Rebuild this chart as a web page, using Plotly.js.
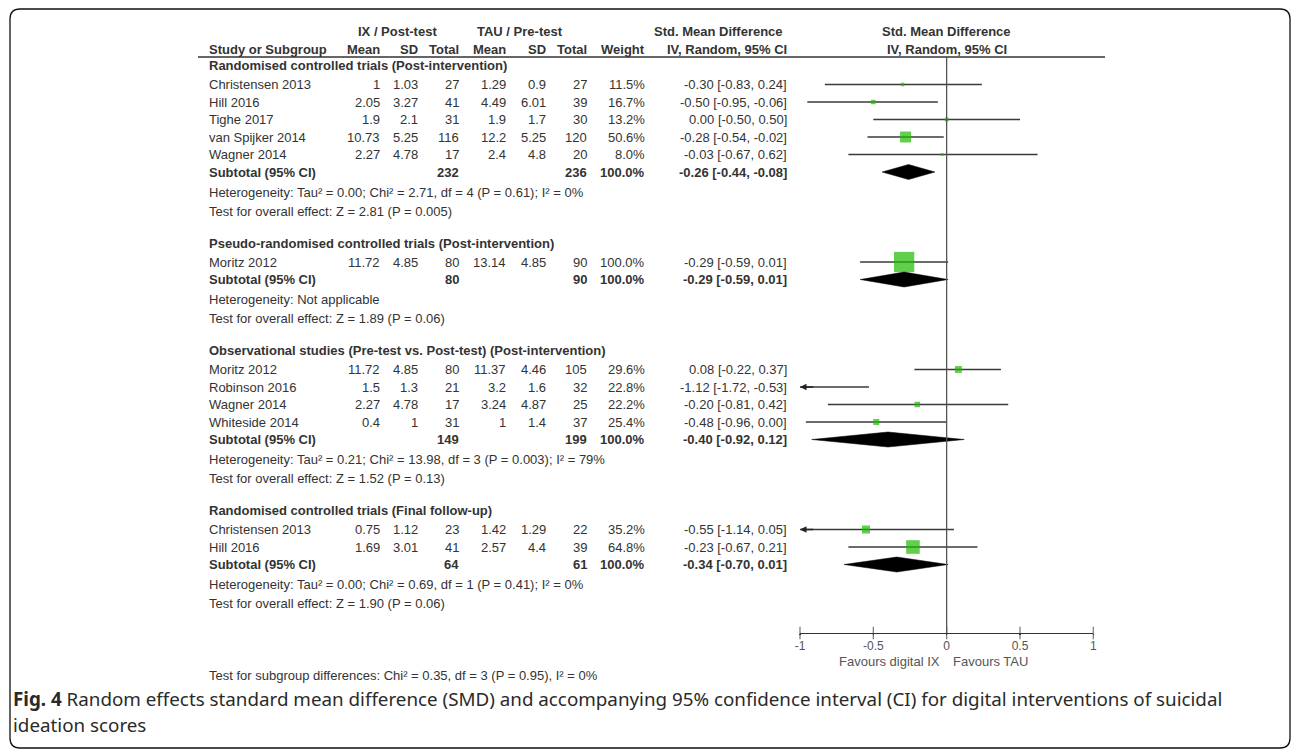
<!DOCTYPE html>
<html>
<head>
<meta charset="utf-8">
<script src="https://cdn.plot.ly/plotly-3.0.1.min.js"></script>
<style>html,body{margin:0;padding:0;background:#fff;}#chart{width:1292px;height:749px;}</style>
</head>
<body>
<div id="chart"></div>
<script>
// ---------- DATA ----------
const groupTitles = [
  "Randomised controlled trials (Post-intervention)",
  "Pseudo-randomised controlled trials (Post-intervention)",
  "Observational studies (Pre-test vs. Post-test) (Post-intervention)",
  "Randomised controlled trials (Final follow-up)"
];
const studyNames = ["Christensen 2013","Hill 2016","Tighe 2017","van Spijker 2014","Wagner 2014",
  "Moritz 2012",
  "Moritz 2012","Robinson 2016","Wagner 2014","Whiteside 2014",
  "Christensen 2013","Hill 2016"];
const studyGroup = [0,0,0,0,0,1,2,2,2,2,3,3];
const ixMean  = [1,2.05,1.9,10.73,2.27,11.72,11.72,1.5,2.27,0.4,0.75,1.69];
const ixSD    = [1.03,3.27,2.1,5.25,4.78,4.85,4.85,1.3,4.78,1,1.12,3.01];
const ixTotal = [27,41,31,116,17,80,80,21,17,31,23,41];
const tauMean = [1.29,4.49,1.9,12.2,2.4,13.14,11.37,3.2,3.24,1,1.42,2.57];
const tauSD   = [0.9,6.01,1.7,5.25,4.8,4.85,4.46,1.6,4.87,1.4,1.29,4.4];
const tauTotal= [27,39,30,120,20,90,105,32,25,37,22,39];
const weight  = [11.5,16.7,13.2,50.6,8.0,100.0,29.6,22.8,22.2,25.4,35.2,64.8];
const smd     = [-0.30,-0.50,0.00,-0.28,-0.03,-0.29,0.08,-1.12,-0.20,-0.48,-0.55,-0.23];
const ciLow   = [-0.83,-0.95,-0.50,-0.54,-0.67,-0.59,-0.22,-1.72,-0.81,-0.96,-1.14,-0.67];
const ciHigh  = [0.24,-0.06,0.50,-0.02,0.62,0.01,0.37,-0.53,0.42,0.00,0.05,0.21];

const subIxTotal  = [232,80,149,64];
const subTauTotal = [236,90,199,61];
const subWeight   = [100.0,100.0,100.0,100.0];
const subSmd  = [-0.26,-0.29,-0.40,-0.34];
const subLow  = [-0.44,-0.59,-0.92,-0.70];
const subHigh = [-0.08,0.01,0.12,0.01];
const hetText = [
  "Heterogeneity: Tau² = 0.00; Chi² = 2.71, df = 4 (P = 0.61); I² = 0%",
  "Heterogeneity: Not applicable",
  "Heterogeneity: Tau² = 0.21; Chi² = 13.98, df = 3 (P = 0.003); I² = 79%",
  "Heterogeneity: Tau² = 0.00; Chi² = 0.69, df = 1 (P = 0.41); I² = 0%"
];
const overallText = [
  "Test for overall effect: Z = 2.81 (P = 0.005)",
  "Test for overall effect: Z = 1.89 (P = 0.06)",
  "Test for overall effect: Z = 1.52 (P = 0.13)",
  "Test for overall effect: Z = 1.90 (P = 0.06)"
];
const subgroupText = "Test for subgroup differences: Chi² = 0.35, df = 3 (P = 0.95), I² = 0%";
const tickVals = [-1,-0.5,0,0.5,1];
const tickText = ["-1","-0.5","0","0.5","1"];
const favoursLeft = "Favours digital IX";
const favoursRight = "Favours TAU";
const captionLine1 = "<b>Fig. 4</b> Random effects standard mean difference (SMD) and accompanying 95% confidence interval (CI) for digital interventions of suicidal";
const captionLine2 = "ideation scores";

// ---------- LAYOUT HELPERS ----------
const W = 1292, H = 749;
const FONT = "Liberation Sans, Arial, sans-serif";
const TXT = "#333";
const GREEN = "rgb(30,185,0)";
const fx0 = 800, fx1 = 1093.3;  // forest axis pixel extent
const axisY = 633;

// row positions
const headY = [], subY = [], hetY = [], testY = [], studyY = new Array(studyNames.length);
let y = 65.5;
for (let g = 0; g < groupTitles.length; g++) {
  headY[g] = y;
  y += 19;
  for (let i = 0; i < studyNames.length; i++) {
    if (studyGroup[i] === g) { studyY[i] = y; y += 17.5; }
  }
  subY[g] = y;
  hetY[g] = y + 20;
  testY[g] = hetY[g] + 19;
  y = testY[g] + 32;
}

const ann = [];
function txt(x, yy, t, anchor, opts) {
  opts = opts || {};
  ann.push({
    xref: 'x', yref: 'y', x: x, y: yy, text: opts.bold ? '<b>' + t + '</b>' : t,
    showarrow: false, xanchor: anchor, yanchor: 'middle', borderpad: 0,
    font: {family: opts.family || FONT, size: opts.size || 13, color: opts.color || TXT}
  });
}
const ciStr = (e, l, h) => e.toFixed(2) + " [" + l.toFixed(2) + ", " + h.toFixed(2) + "]";

// column right edges
const colX = {name: 208, ixMean: 381, ixSD: 418.5, ixTotal: 460, tauMean: 506.5, tauSD: 546.5, tauTotal: 587.5, weight: 645.5, ci: 787.5};

// headers
txt(397.5, 31, "IX / Post-test", 'center', {bold: true});
txt(519.5, 31, "TAU / Pre-test", 'center', {bold: true});
txt(718, 31, "Std. Mean Difference", 'center', {bold: true});
txt(946.5, 31, "Std. Mean Difference", 'center', {bold: true});
txt(colX.name, 49, "Study or Subgroup", 'left', {bold: true});
txt(colX.ixMean, 49, "Mean", 'right', {bold: true});
txt(colX.ixSD, 49, "SD", 'right', {bold: true});
txt(colX.ixTotal, 49, "Total", 'right', {bold: true});
txt(colX.tauMean, 49, "Mean", 'right', {bold: true});
txt(colX.tauSD, 49, "SD", 'right', {bold: true});
txt(colX.tauTotal, 49, "Total", 'right', {bold: true});
txt(colX.weight, 49, "Weight", 'right', {bold: true});
txt(colX.ci, 49, "IV, Random, 95% CI", 'right', {bold: true});
txt(946.5, 49, "IV, Random, 95% CI", 'center', {bold: true});

for (let g = 0; g < groupTitles.length; g++) {
  txt(colX.name, headY[g], groupTitles[g], 'left', {bold: true});
  txt(colX.name, subY[g], "Subtotal (95% CI)", 'left', {bold: true});
  txt(colX.ixTotal, subY[g], String(subIxTotal[g]), 'right', {bold: true});
  txt(colX.tauTotal, subY[g], String(subTauTotal[g]), 'right', {bold: true});
  txt(colX.weight, subY[g], subWeight[g].toFixed(1) + "%", 'right', {bold: true});
  txt(colX.ci, subY[g], ciStr(subSmd[g], subLow[g], subHigh[g]), 'right', {bold: true});
  txt(colX.name, hetY[g], hetText[g], 'left');
  txt(colX.name, testY[g], overallText[g], 'left');
}
for (let i = 0; i < studyNames.length; i++) {
  const yy = studyY[i];
  txt(colX.name, yy, studyNames[i], 'left');
  txt(colX.ixMean, yy, String(ixMean[i]), 'right');
  txt(colX.ixSD, yy, String(ixSD[i]), 'right');
  txt(colX.ixTotal, yy, String(ixTotal[i]), 'right');
  txt(colX.tauMean, yy, String(tauMean[i]), 'right');
  txt(colX.tauSD, yy, String(tauSD[i]), 'right');
  txt(colX.tauTotal, yy, String(tauTotal[i]), 'right');
  txt(colX.weight, yy, weight[i].toFixed(1) + "%", 'right');
  txt(colX.ci, yy, ciStr(smd[i], ciLow[i], ciHigh[i]), 'right');
}
txt(colX.name, 675, subgroupText, 'left');
txt(940.5, 661, favoursLeft, 'right', {color: '#555'});
txt(952, 661, favoursRight, 'left', {color: '#555'});
txt(12, 699, captionLine1, 'left', {family: "Noto Sans, sans-serif", size: 18.8, color: '#2a2a2a'});
txt(12, 725, captionLine2, 'left', {family: "Noto Sans, sans-serif", size: 18.8, color: '#2a2a2a'});

// arrows for CIs beyond axis range
for (let i = 0; i < studyNames.length; i++) {
  if (ciLow[i] < -1) {
    ann.push({xref: 'x2', yref: 'y', axref: 'x2', ayref: 'y', x: -1, y: studyY[i], ax: Math.min(ciHigh[i], -0.9), ay: studyY[i],
      text: '', showarrow: true, arrowhead: 2, arrowsize: 1, arrowwidth: 1.3, arrowcolor: '#222', standoff: 0});
  }
}

// ---------- TRACES ----------
const traces = [];
// CI lines
for (let i = 0; i < studyNames.length; i++) {
  traces.push({type: 'scatter', mode: 'lines', xaxis: 'x2', yaxis: 'y',
    x: [ciLow[i], ciHigh[i]], y: [studyY[i], studyY[i]],
    line: {color: '#3a3a3a', width: 1.3}, hoverinfo: 'skip', showlegend: false});
}
// squares
traces.push({type: 'scatter', mode: 'markers', xaxis: 'x2', yaxis: 'y',
  x: smd, y: studyY,
  marker: {symbol: 'square', color: GREEN, size: weight.map(w => 1.3 + 0.19 * w), line: {width: 0}},
  hoverinfo: 'skip', showlegend: false});
// diamonds
for (let g = 0; g < groupTitles.length; g++) {
  traces.push({type: 'scatter', mode: 'lines', xaxis: 'x2', yaxis: 'y', fill: 'toself',
    x: [subLow[g], subSmd[g], subHigh[g], subSmd[g], subLow[g]],
    y: [subY[g], subY[g] - 7.5, subY[g], subY[g] + 7.5, subY[g]],
    fillcolor: '#000', line: {color: '#000', width: 0.5}, hoverinfo: 'skip', showlegend: false});
}
// full-height ticks on forest axis
traces.push({type: 'scatter', mode: 'markers', xaxis: 'x2', yaxis: 'y', x: tickVals, y: tickVals.map(() => axisY),
  marker: {symbol: 'line-ns-open', size: 9, line: {color: '#333', width: 1.3}}, cliponaxis: false,
  hoverinfo: 'skip', showlegend: false});
// invisible trace for page axis
traces.push({type: 'scatter', mode: 'markers', x: [0], y: [0], marker: {opacity: 0}, hoverinfo: 'skip', showlegend: false});

const layout = {
  width: W, height: H,
  margin: {l: 0, r: 0, t: 0, b: 0, pad: 0},
  paper_bgcolor: '#fff', plot_bgcolor: 'rgba(0,0,0,0)',
  showlegend: false,
  xaxis: {range: [0, W], domain: [0, 1], visible: false, fixedrange: true},
  yaxis: {range: [H, 0], domain: [0, 1], visible: false, fixedrange: true},
  xaxis2: {range: [-1, 1], domain: [fx0 / W, fx1 / W], anchor: 'free', position: (H - axisY) / H,
    showline: true, linecolor: '#333', linewidth: 1.3, showgrid: false, zeroline: false,
    tickmode: 'array', tickvals: tickVals, ticktext: tickText, ticks: 'outside', ticklen: 1, tickcolor: '#333', tickwidth: 1.3,
    tickfont: {family: FONT, size: 12, color: '#555'}, fixedrange: true},
  shapes: [
    {type: 'line', xref: 'x', yref: 'y', x0: 198, x1: 1105, y0: 57, y1: 57, line: {color: '#333', width: 1.3}},
    {type: 'line', xref: 'x2', yref: 'y', x0: 0, x1: 0, y0: 57, y1: axisY, line: {color: '#555', width: 1.3}},
    {type: 'path', xref: 'x', yref: 'y', path: 'M 20,9 L 1280,9 Q 1290,9 1290,19 L 1290,738 Q 1290,748 1280,748 L 20,748 Q 10,748 10,738 L 10,19 Q 10,9 20,9 Z',
      line: {color: '#111', width: 1.3}, fillcolor: 'rgba(0,0,0,0)'}
  ],
  annotations: ann
};

Plotly.newPlot('chart', traces, layout, {staticPlot: true, displayModeBar: false});
</script>
</body>
</html>
